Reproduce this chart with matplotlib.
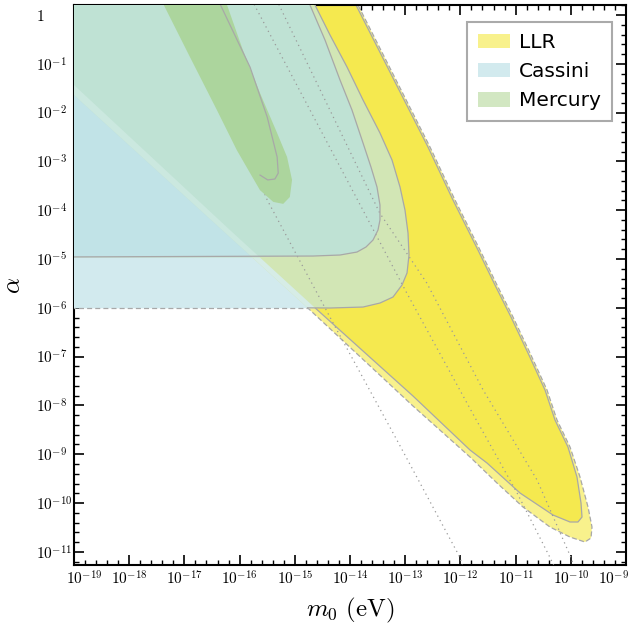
import numpy as np
import matplotlib
matplotlib.use("Agg")
from matplotlib import pyplot as plt
from matplotlib.patches import Patch
from matplotlib.ticker import FixedLocator, NullFormatter
from matplotlib.transforms import ScaledTranslation

plt.rcParams['mathtext.fontset'] = 'cm'

# all shapes are given as log10(m0 / eV), log10(alpha)

# LLR, outer contour: lower-left edge (left -> tip), upper-right edge (tip -> top)
llr_out_ll_lx = [-19.5, -19.0, -14.725, -12.859, -11.826, -11.337, -10.866, -10.377, -10.014, -9.743]
llr_out_ll_ly = [-1.12, -1.639, -6.045, -8.012, -9.057, -9.590, -10.082, -10.492, -10.697, -10.799]
llr_out_ur_lx = [-9.634, -9.616, -9.688, -9.833, -10.014, -10.250, -10.431, -10.739, -11.047,
                 -11.337, -11.645, -12.098, -12.551, -13.855, -13.99]
llr_out_ur_ly = [-10.717, -10.492, -10.082, -9.467, -8.852, -8.299, -7.684, -6.926, -6.189,
                 -5.533, -4.816, -3.791, -2.705, 0.205, 0.5]

# LLR, inner contour
llr_in_ll_lx = [-19.5, -19.0, -16.174, -14.670, -12.859, -11.826, -11.518, -10.920, -10.322, -10.014, -9.870]
llr_in_ll_ly = [-0.92, -1.434, -4.406, -5.963, -7.807, -8.914, -9.180, -9.795, -10.246, -10.389, -10.389]
llr_in_ur_lx = [-9.797, -9.815, -9.888, -10.051, -10.286, -10.467, -10.775, -11.083,
                 -11.373, -11.681, -12.134, -12.587, -13.891, -14.03]
llr_in_ur_ly = [-10.287, -10.000, -9.467, -8.852, -8.299, -7.684, -6.926, -6.189,
                -5.533, -4.816, -3.791, -2.705, 0.205, 0.5]

# Cassini, outer and inner contours
cas_out_lx = [-19.5, -14.362, -13.764, -13.457, -13.221, -13.058, -12.967, -12.931, -12.949, -13.004,
              -13.094, -13.239, -13.457, -13.764, -14.054, -14.362, -14.634, -14.77, -19.5]
cas_out_ly = [-6.0, -6.004, -5.984, -5.902, -5.779, -5.533, -5.287, -4.918, -4.467, -3.996,
              -3.525, -2.971, -2.418, -1.742, -1.066, -0.410, 0.205, 0.5, 0.5]
cas_in_lx = [-19.5, -14.670, -14.181, -13.873, -13.710, -13.583, -13.493, -13.457, -13.457,
             -13.511, -13.620, -13.764, -13.964, -14.181, -14.453, -14.725, -14.83, -19.5]
cas_in_ly = [-4.959, -4.939, -4.918, -4.857, -4.754, -4.611, -4.406, -4.201, -3.893,
             -3.525, -3.115, -2.623, -1.947, -1.332, -0.512, 0.205, 0.5, 0.5]
cas_flat_ly = -6.0

# Mercury
mer_lx = [-17.42, -16.90, -16.41, -16.05, -15.81, -15.63, -15.39, -15.21, -15.09, -15.05,
          -15.14, -15.32, -15.63, -15.94, -16.26]
mer_ly = [0.31, -0.86, -1.95, -2.77, -3.24, -3.59, -3.83, -3.87, -3.73, -3.38,
          -2.91, -2.42, -1.60, -0.72, 0.31]
mer_in_lx = [-16.39, -15.81, -15.50, -15.32, -15.30, -15.36, -15.49, -15.63]
mer_in_ly = [0.31, -1.07, -2.09, -2.91, -3.24, -3.36, -3.38, -3.28]

# dotted reference curves
dot1_lx = [-16.99, -15.50, -14.24, -13.15, -12.01, -11.96]
dot1_ly = [0.31, -3.79, -6.45, -8.71, -11.11, -11.3]
dot2_lx = [-15.78, -12.97, -11.78, -10.97, -10.38, -10.30]
dot2_ly = [0.31, -5.70, -8.16, -9.80, -11.11, -11.3]
dot3_lx = [-15.33, -13.46, -12.61, -11.59, -10.61, -10.00, -9.94]
dot3_ly = [0.31, -4.06, -5.49, -7.68, -9.53, -11.11, -11.3]

x_decades = list(range(-19, -8))
y_decades = list(range(-11, 1))
legend_names = ['LLR', 'Cassini', 'Mercury']

c_llr_out = '#f8f18c'
c_llr_in = '#f5e94f'
c_cas = '#d2eaee'
c_cas_in = '#c1e3e7'
c_cas_llr = '#d2e6b5'
c_mint = '#bfe2d4'
c_strip_hi = '#cbe8df'
c_strip_lo = '#d6ece6'
c_mer = '#acd59d'
c_mer_leg = '#d2e7c2'
c_edge = '#a8a8a8'


def p(v):
    return 10.0 ** np.asarray(v, dtype=float)


fig = plt.figure(figsize=(6.29, 6.28), dpi=100)
ax = fig.add_axes([74 / 629, 1 - 565 / 628, 552 / 629, 560 / 628])
ax.set_xscale('log')
ax.set_yscale('log')

# LLR
llr_out_x = llr_out_ll_lx + llr_out_ur_lx + [-19.5]
llr_out_y = llr_out_ll_ly + llr_out_ur_ly + [0.5]
llr_in_x = llr_in_ll_lx + llr_in_ur_lx + [-19.5]
llr_in_y = llr_in_ll_ly + llr_in_ur_ly + [0.5]
ax.fill(p(llr_out_x), p(llr_out_y), color=c_llr_out, lw=0, zorder=1)
ax.plot(p(llr_out_x), p(llr_out_y), color=c_edge, lw=0.9, ls=(0, (4, 2)), zorder=1.5)
ax.fill(p(llr_in_x), p(llr_in_y), color=c_llr_in, lw=0, zorder=2)
ax.plot(p(llr_in_x), p(llr_in_y), color=c_edge, lw=0.9, zorder=2.5)

# Cassini
ax.fill(p(cas_out_lx), p(cas_out_ly), color=c_cas_llr, lw=0, zorder=3)
ax.fill(p(cas_in_lx), p(cas_in_ly), color=c_mint, lw=0, zorder=4)

# part of the Cassini region not covered by LLR
ll_y = np.array(llr_out_ll_ly)[::-1]
ll_x = np.array(llr_out_ll_lx)[::-1]
in_y = np.array(llr_in_ll_ly)[::-1]
in_x = np.array(llr_in_ll_lx)[::-1]
split = cas_in_ly[0]
yy_lo = np.linspace(cas_flat_ly, split, 40)
yy_hi = np.linspace(split, 0.5, 120)
ax.fill_betweenx(p(yy_lo), 1e-20, p(np.interp(yy_lo, ll_y, ll_x)), color=c_cas, lw=0, zorder=5)
ax.fill_betweenx(p(yy_hi), 1e-20, p(np.interp(yy_hi, ll_y, ll_x)), color=c_cas_in, lw=0, zorder=5)
ax.fill_betweenx(p(yy_lo), p(np.interp(yy_lo, ll_y, ll_x)), p(np.interp(yy_lo, in_y, in_x)),
                 color=c_strip_lo, lw=0, zorder=5)
ax.fill_betweenx(p(yy_hi), p(np.interp(yy_hi, ll_y, ll_x)), p(np.interp(yy_hi, in_y, in_x)),
                 color=c_strip_hi, lw=0, zorder=5)

# Cassini contour lines
x_cross = np.interp(cas_flat_ly, ll_y, ll_x)
ax.plot(p(cas_in_lx[:-2]), p(cas_in_ly[:-2]), color=c_edge, lw=0.9, zorder=8)
ax.plot(p([x_cross] + cas_out_lx[1:-2]), p([cas_flat_ly] + cas_out_ly[1:-2]),
        color=c_edge, lw=0.9, zorder=8)
ax.plot(p([-19.5, x_cross]), p([cas_flat_ly, cas_flat_ly]), color=c_edge, lw=0.9,
        ls=(0, (4, 2.5)), zorder=8)

# dotted curves
for dx, dy in [(dot1_lx, dot1_ly), (dot2_lx, dot2_ly), (dot3_lx, dot3_ly)]:
    ax.plot(p(dx), p(dy), color='#9a9a9a', lw=0.9, ls=(0, (1, 3)), zorder=6)

# Mercury
ax.fill(p(mer_lx), p(mer_ly), color=c_mer, lw=0, zorder=7)
ax.plot(p(mer_in_lx), p(mer_in_ly), color=c_edge, lw=0.9, zorder=8)

ax.set_xlim(1e-19, 1e-9)
ax.set_ylim(10 ** -11.27, 10 ** 0.205)

ax.set_xticks(p(x_decades))
ax.set_xticklabels([r'$10^{%d}$' % d for d in x_decades])
ax.set_yticks(p(y_decades))
ax.set_yticklabels([r'$1$' if d == 0 else r'$10^{%d}$' % d for d in y_decades])
minor_x = [10.0 ** (d + j / 5) for d in x_decades[:-1] for j in range(1, 5)]
minor_y = [10.0 ** (d + j / 5) for d in y_decades + [-12] for j in range(1, 5)]
ax.xaxis.set_minor_locator(FixedLocator(minor_x))
ax.yaxis.set_minor_locator(FixedLocator(minor_y))
ax.xaxis.set_minor_formatter(NullFormatter())
ax.yaxis.set_minor_formatter(NullFormatter())

ax.tick_params(which='both', direction='in', top=True, right=True, labelsize=11)
ax.tick_params(which='major', length=7, width=1.2)
ax.tick_params(which='minor', length=3.5, width=1.0)
ax.tick_params(axis='y', pad=27.5)
plt.setp(ax.get_yticklabels(), ha='left')
# end labels are nudged inward, as in the original
xlabels = ax.get_xticklabels()
xlabels[0].set_transform(xlabels[0].get_transform() + ScaledTranslation(0.10, 0, fig.dpi_scale_trans))
xlabels[-1].set_transform(xlabels[-1].get_transform() + ScaledTranslation(-0.12, 0, fig.dpi_scale_trans))
for s in ax.spines.values():
    s.set_linewidth(1.5)

ax.set_xlabel(r'$m_0\ \mathrm{(eV)}$', fontsize=18, labelpad=6)
ax.set_ylabel(r'$\alpha$', fontsize=18, labelpad=8)

handles = [Patch(facecolor=c, edgecolor='none') for c in [c_llr_out, c_cas, c_mer_leg]]
leg = ax.legend(handles, legend_names, loc='upper right', fontsize=14.5, borderaxespad=0,
                bbox_to_anchor=(612 / 629, 1 - 22 / 628), bbox_transform=fig.transFigure,
                handlelength=1.6, handleheight=0.75, labelspacing=0.5, handletextpad=0.45,
                borderpad=0.55, fancybox=False, framealpha=1)
leg.get_frame().set_edgecolor('#aaaaaa')
leg.get_frame().set_linewidth(1.5)
leg.set_zorder(20)

fig.savefig('out.png', dpi=100)
